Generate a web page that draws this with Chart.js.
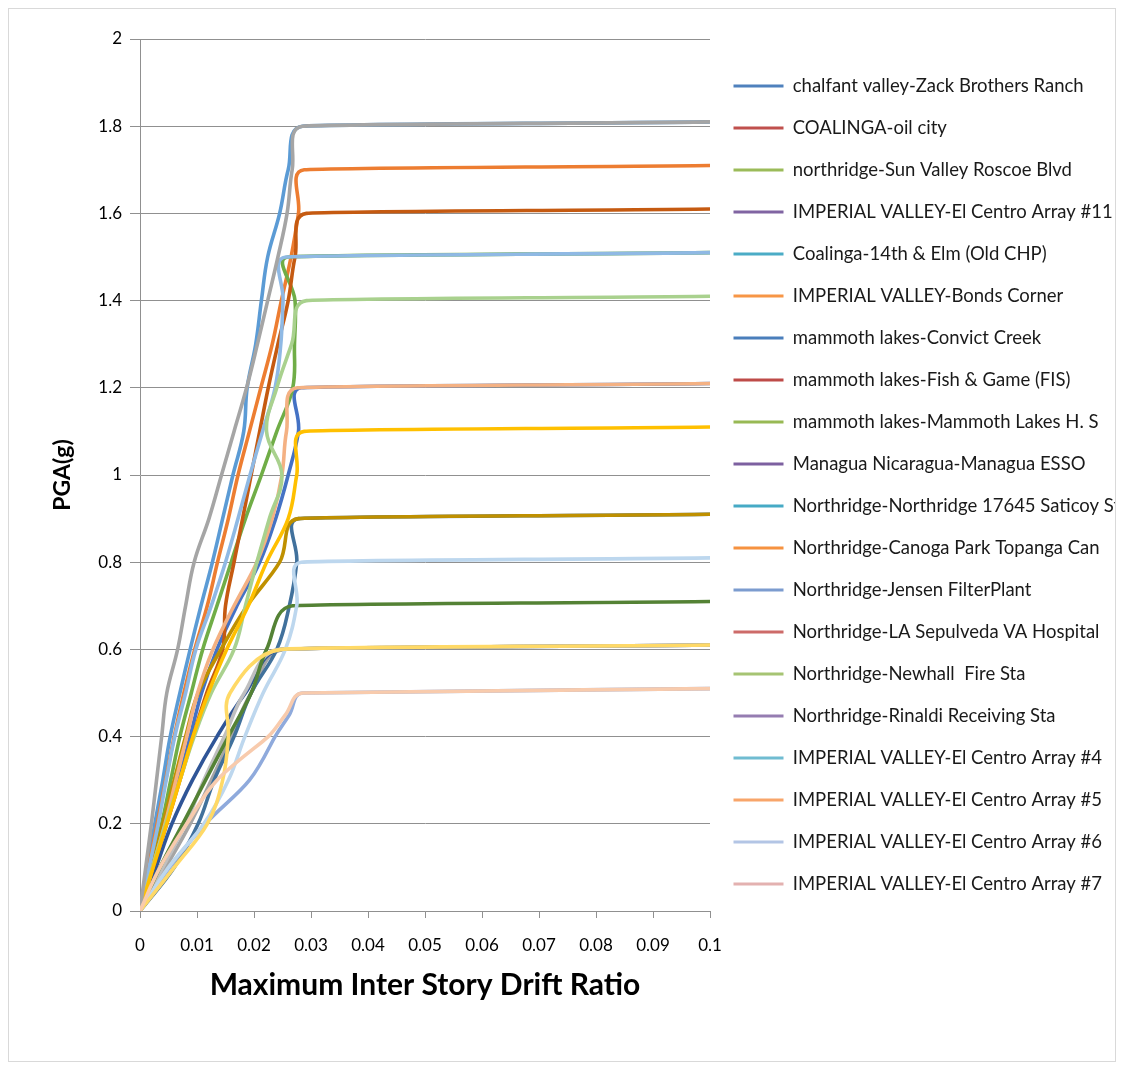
<!DOCTYPE html>
<html>
<head>
<meta charset="utf-8">
<script src="https://cdn.jsdelivr.net/npm/chart.js@4.4.1/dist/chart.umd.min.js"></script>
<style>
  html, body { margin: 0; padding: 0; background: #fff; }
  #frame { position: absolute; left: 8px; top: 8px; width: 1106px; height: 1052px; border: 1px solid #d9d9d9; }
  #chart { display: block; }
</style>
</head>
<body>
<div id="frame"><canvas id="chart" width="1106" height="1052"></canvas></div>
<script>
// IDA curves: [max inter story drift ratio, PGA(g)]
const chalfantZack = [[0,0],[0.0013,0.1],[0.0026,0.2],[0.004,0.3],[0.0053,0.4],[0.007,0.5],[0.0088,0.6],[0.0107,0.7],[0.0127,0.8],[0.0145,0.9],[0.0163,1.0],[0.0182,1.1],[0.0188,1.2],[0.0203,1.3],[0.0213,1.4],[0.0224,1.5],[0.0245,1.6],[0.026,1.7],[0.0285,1.8],[0.1,1.81]];
const coalingaOil = [[0,0],[0.0015,0.1],[0.003,0.2],[0.0045,0.3],[0.006,0.4],[0.0077,0.5],[0.0096,0.6],[0.0118,0.7],[0.0136,0.8],[0.0155,0.9],[0.0172,1.0],[0.0192,1.1],[0.0212,1.2],[0.0232,1.3],[0.0248,1.4],[0.0265,1.5],[0.0278,1.6],[0.0288,1.7],[0.1,1.71]];
const sunValley = [[0,0],[0.0045,0.1],[0.0088,0.2],[0.0125,0.3],[0.016,0.4],[0.0195,0.5],[0.0252,0.6],[0.1,0.61]];
const ecArray11 = [[0,0],[0.006,0.1],[0.0102,0.2],[0.013,0.3],[0.0165,0.4],[0.0195,0.5],[0.024,0.6],[0.0262,0.7],[0.0275,0.8],[0.0278,0.9],[0.1,0.91]];
const coalinga14th = [[0,0],[0.0023,0.1],[0.0046,0.2],[0.0068,0.3],[0.0088,0.4],[0.0108,0.5],[0.0135,0.6],[0.017,0.7],[0.021,0.8],[0.0238,0.9],[0.026,1.0],[0.0278,1.1],[0.0283,1.2],[0.1,1.21]];
const bondsCorner = [[0,0],[0.0019,0.1],[0.0038,0.2],[0.0054,0.3],[0.007,0.4],[0.009,0.5],[0.011,0.6],[0.0135,0.7],[0.016,0.8],[0.0185,0.9],[0.0213,1.0],[0.024,1.1],[0.0268,1.2],[0.0271,1.3],[0.0272,1.4],[0.026,1.5],[0.1,1.51]];
const convictCreek = [[0,0],[0.0028,0.1],[0.0056,0.2],[0.0092,0.3],[0.0135,0.4],[0.0185,0.5],[0.0248,0.6],[0.1,0.61]];
const fishGame = [[0,0],[0.0023,0.1],[0.0047,0.2],[0.007,0.3],[0.0093,0.4],[0.0117,0.5],[0.0145,0.6],[0.015,0.7],[0.0165,0.8],[0.018,0.9],[0.0195,1.0],[0.021,1.1],[0.0225,1.2],[0.0242,1.3],[0.026,1.4],[0.0272,1.5],[0.0292,1.6],[0.1,1.61]];
const mammothHS = [[0,0],[0.004,0.1],[0.008,0.2],[0.0112,0.3],[0.0148,0.4],[0.0183,0.5],[0.0245,0.6],[0.1,0.61]];
const managuaEsso = [[0,0],[0.002,0.1],[0.004,0.2],[0.006,0.3],[0.008,0.4],[0.0102,0.5],[0.0142,0.6],[0.0188,0.7],[0.0245,0.8],[0.0278,0.9],[0.1,0.91]];
const saticoy = [[0,0],[0.0052,0.1],[0.0115,0.2],[0.0192,0.3],[0.0237,0.4],[0.0262,0.45],[0.0285,0.5],[0.1,0.51]];
const canogaPark = [[0,0],[0.0035,0.1],[0.0075,0.2],[0.0115,0.3],[0.0155,0.4],[0.0195,0.5],[0.0222,0.6],[0.0268,0.7],[0.1,0.71]];
const jensen = [[0,0],[0.0016,0.1],[0.0032,0.2],[0.0046,0.3],[0.0061,0.4],[0.008,0.5],[0.0098,0.6],[0.0125,0.7],[0.015,0.8],[0.0172,0.9],[0.0193,1.0],[0.0215,1.1],[0.0237,1.2],[0.0247,1.3],[0.0251,1.4],[0.0256,1.5],[0.1,1.51]];
const sepulveda = [[0,0],[0.0022,0.1],[0.0044,0.2],[0.0063,0.3],[0.0082,0.4],[0.0101,0.5],[0.0128,0.6],[0.0165,0.7],[0.0205,0.8],[0.0232,0.9],[0.0249,1.0],[0.0257,1.1],[0.0276,1.2],[0.1,1.21]];
const newhall = [[0,0],[0.0022,0.1],[0.0045,0.2],[0.007,0.3],[0.0095,0.4],[0.0125,0.5],[0.0165,0.6],[0.0185,0.7],[0.0205,0.8],[0.0227,0.9],[0.0249,1.0],[0.0222,1.1],[0.024,1.2],[0.0266,1.3],[0.0292,1.4],[0.1,1.41]];
const rinaldi = [[0,0],[0.0023,0.1],[0.0047,0.2],[0.007,0.3],[0.0093,0.4],[0.012,0.5],[0.0152,0.6],[0.019,0.7],[0.0222,0.8],[0.026,0.9],[0.0275,1.0],[0.0288,1.1],[0.1,1.11]];
const ecArray4 = [[0,0],[0.005,0.1],[0.0112,0.2],[0.0155,0.3],[0.0184,0.4],[0.0216,0.5],[0.0255,0.6],[0.0275,0.7],[0.0283,0.8],[0.1,0.81]];
const ecArray5 = [[0,0],[0.006,0.1],[0.0118,0.2],[0.0145,0.3],[0.0155,0.4],[0.0158,0.5],[0.0248,0.6],[0.1,0.61]];
const ecArray6 = [[0,0],[0.001,0.1],[0.002,0.2],[0.0029,0.3],[0.0038,0.4],[0.0047,0.5],[0.0066,0.6],[0.008,0.7],[0.0095,0.8],[0.0121,0.9],[0.0143,1.0],[0.0165,1.1],[0.0187,1.2],[0.0206,1.3],[0.0224,1.4],[0.0242,1.5],[0.0258,1.6],[0.0267,1.7],[0.0285,1.8],[0.1,1.81]];
const ecArray7 = [[0,0],[0.0035,0.1],[0.0082,0.2],[0.0135,0.3],[0.0225,0.4],[0.0255,0.45],[0.0285,0.5],[0.1,0.51]];

const seriesNames = [
  "chalfant valley-Zack Brothers Ranch", "COALINGA-oil city", "northridge-Sun Valley Roscoe Blvd",
  "IMPERIAL VALLEY-El Centro Array #11", "Coalinga-14th & Elm (Old CHP)", "IMPERIAL VALLEY-Bonds Corner",
  "mammoth lakes-Convict Creek", "mammoth lakes-Fish & Game (FIS)", "mammoth lakes-Mammoth Lakes H. S",
  "Managua Nicaragua-Managua ESSO", "Northridge-Northridge 17645 Saticoy St", "Northridge-Canoga Park Topanga Can",
  "Northridge-Jensen FilterPlant", "Northridge-LA Sepulveda VA Hospital", "Northridge-Newhall  Fire Sta",
  "Northridge-Rinaldi Receiving Sta", "IMPERIAL VALLEY-El Centro Array #4", "IMPERIAL VALLEY-El Centro Array #5",
  "IMPERIAL VALLEY-El Centro Array #6", "IMPERIAL VALLEY-El Centro Array #7"
];
const seriesData = [chalfantZack, coalingaOil, sunValley, ecArray11, coalinga14th, bondsCorner, convictCreek,
  fishGame, mammothHS, managuaEsso, saticoy, canogaPark, jensen, sepulveda, newhall, rinaldi,
  ecArray4, ecArray5, ecArray6, ecArray7];

const lineColors = ['#5B9BD5','#ED7D31','#A5A5A5','#41719C','#4472C4','#70AD47','#2F5597','#C55A11','#BFBFBF','#BF9000',
  '#8FAADC','#548235','#8FB9E4','#F4B183','#A9D18E','#FFC000','#BDD7EE','#FFD966','#A5A5A5','#F8CBAD'];
const legendColors = ['#4F81BD','#C0504D','#9BBB59','#8064A2','#4BACC6','#F79646','#4A7EBB','#BE4B48','#98B954','#7D60A0',
  '#46AAC5','#F69240','#7C9CCF','#CD6B69','#A6C473','#957DB1','#70BCD1','#F8A56A','#B3C5E5','#E3B1B0'];

const TENSION = 0.4;

const datasets = seriesData.map((pts, i) => ({
  label: seriesNames[i],
  data: pts.map(p => ({ x: p[0], y: p[1] })),
  showLine: true,
  borderColor: lineColors[i],
  backgroundColor: lineColors[i],
  borderWidth: 3.6,
  pointRadius: 0,
  pointHoverRadius: 0,
  tension: TENSION,
  fill: false,
  order: seriesData.length - i
}));

// smoothing close to Excel's: control handles never longer than tension * shorter neighbour segment,
// so long flat tails stay straight
const smoothLines = {
  id: 'smoothLines',
  beforeDatasetsDraw(chart) {
    chart.data.datasets.forEach((ds, i) => {
      const meta = chart.getDatasetMeta(i);
      const pts = meta.data;
      for (let k = 0; k < pts.length; k++) {
        const p = pts[k];
        const prev = pts[k - 1] || p;
        const next = pts[k + 1] || p;
        const d01 = Math.hypot(p.x - prev.x, p.y - prev.y);
        const d12 = Math.hypot(next.x - p.x, next.y - p.y);
        const sum = d01 + d12 || 1;
        const dx = next.x - prev.x, dy = next.y - prev.y;
        const cap = TENSION * Math.min(d01 || d12, d12 || d01);
        let ax = TENSION * d01 / sum * dx, ay = TENSION * d01 / sum * dy;
        let bx = TENSION * d12 / sum * dx, by = TENSION * d12 / sum * dy;
        const la = Math.hypot(ax, ay), lb = Math.hypot(bx, by);
        if (la > cap && la > 0) { ax *= cap / la; ay *= cap / la; }
        if (lb > cap && lb > 0) { bx *= cap / lb; by *= cap / lb; }
        p.cp1x = p.x - ax; p.cp1y = p.y - ay;
        p.cp2x = p.x + bx; p.cp2y = p.y + by;
      }
      meta.dataset._pointsUpdated = true;
    });
  }
};

// the legend box keeps the full width of the long station names
const legendWidth = {
  id: 'legendWidth',
  beforeLayout(chart) {
    const lg = chart.legend;
    if (lg && !lg._wide) {
      const fit = lg.fit;
      lg.fit = function() { fit.call(this); this.width = 405; };
      lg._wide = true;
    }
  }
};

const ctx = document.getElementById('chart').getContext('2d');
new Chart(ctx, {
  type: 'scatter',
  data: { datasets: datasets },
  plugins: [smoothLines, legendWidth],
  options: {
    responsive: false,
    animation: false,
    layout: { padding: { top: 30, right: 0, bottom: 0, left: 0 } },
    plugins: {
      tooltip: { enabled: false },
      legend: {
        position: 'right',
        align: 'start',
        title: { display: true, text: '', padding: 0, font: { size: 10, lineHeight: 1.425 } },
        labels: {
          boxWidth: 50,
          boxHeight: 3,
          padding: 23.5,
          color: '#1a1a1a',
          font: { family: 'Lato', size: 18.5 },
          generateLabels: function(chart) {
            return chart.data.datasets.map((d, i) => ({
              text: d.label,
              fillStyle: legendColors[i],
              strokeStyle: legendColors[i],
              fontColor: '#1a1a1a',
              lineWidth: 0,
              hidden: false,
              datasetIndex: i
            }));
          }
        }
      }
    },
    scales: {
      x: {
        type: 'linear',
        min: 0,
        max: 0.1,
        afterFit: function(scale) { scale.height = 150; },
        ticks: {
          stepSize: 0.01,
          autoSkip: false,
          maxRotation: 0,
          padding: 17,
          color: '#000',
          font: { family: 'Lato', size: 17 },
          callback: v => String(Number(v.toFixed(3)))
        },
        grid: { drawOnChartArea: false, tickLength: 7, color: '#909090' },
        border: { color: '#909090' },
        title: {
          display: true,
          text: 'Maximum Inter Story Drift Ratio',
          color: '#000',
          font: { family: 'Lato', size: 30, weight: 'bold' },
          padding: { top: 0, bottom: 58 }
        }
      },
      y: {
        min: 0,
        max: 2,
        afterFit: function(scale) { scale.width = 131; },
        ticks: {
          stepSize: 0.2,
          padding: 8,
          color: '#000',
          font: { family: 'Lato', size: 17 },
          callback: v => String(Number(v.toFixed(2)))
        },
        grid: { color: '#909090', tickLength: 10 },
        border: { color: '#909090' },
        title: {
          display: true,
          text: 'PGA(g)',
          color: '#000',
          font: { family: 'Lato', size: 23, weight: 'bold' },
          padding: { top: 40, bottom: 0 }
        }
      }
    }
  }
});
</script>
</body>
</html>
